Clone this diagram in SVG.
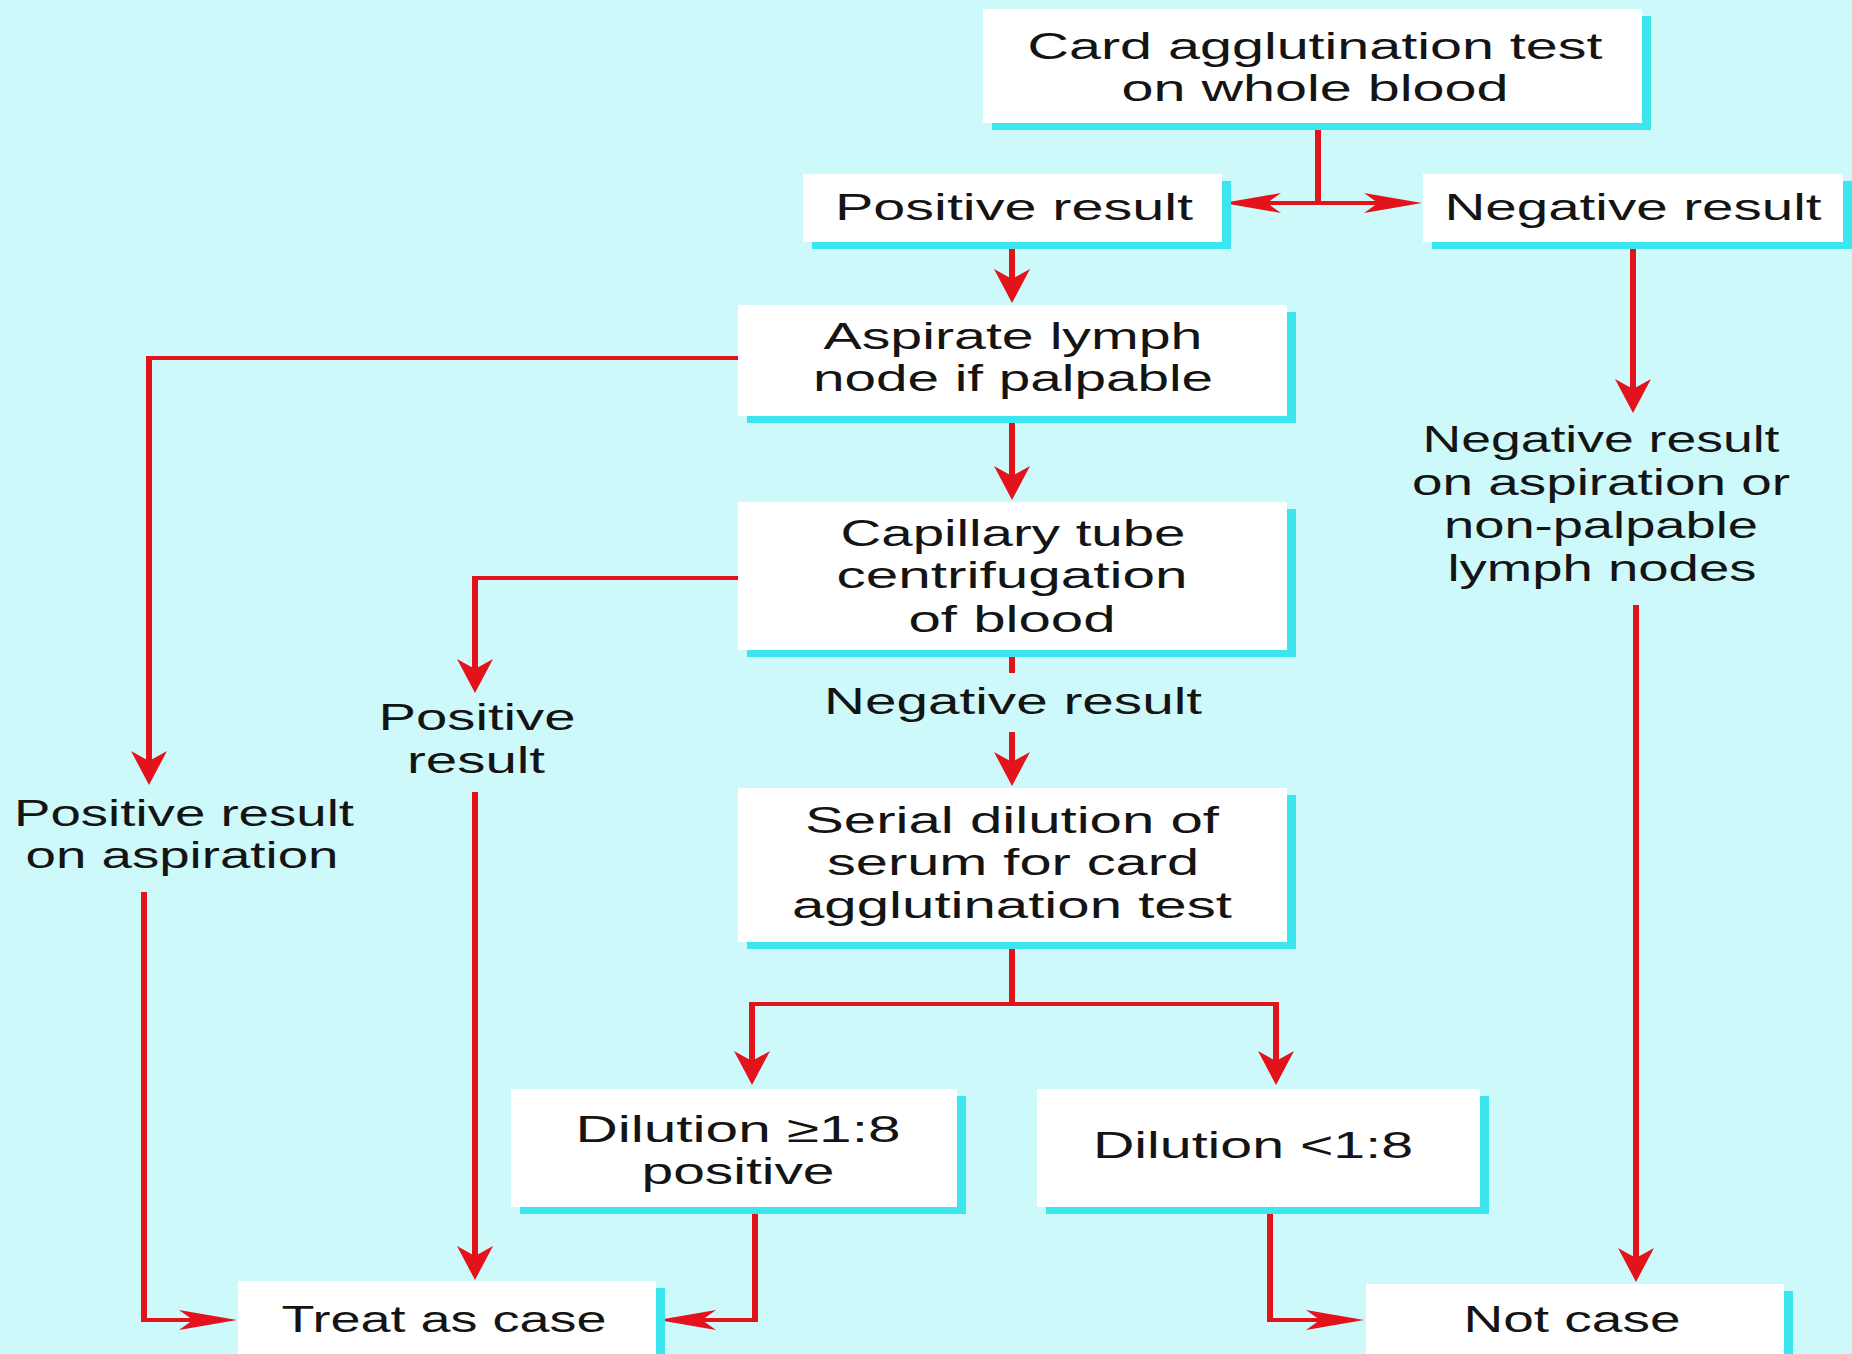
<svg xmlns="http://www.w3.org/2000/svg" width="1852" height="1354" viewBox="0 0 1852 1354">
<defs>
<style>
.bg{fill:#cdf9fa}
.sh{fill:#3ce6ee}
.box{fill:#ffffff}
.t{font-family:"Liberation Sans",Arial,sans-serif;font-size:37px;fill:#141414;text-anchor:middle}
.v{stroke:#e3121b;stroke-width:6;fill:none}
.h{stroke:#e3121b;stroke-width:4;fill:none}
.ah{fill:#e3121b}
</style>
<marker id="av" markerUnits="userSpaceOnUse" markerWidth="34" markerHeight="36" refX="10" refY="18" orient="auto" overflow="visible">
<path class="ah" d="M0,0 L34,18 L0,36 L10,18 Z"/>
</marker>
<marker id="ahh" markerUnits="userSpaceOnUse" markerWidth="58" markerHeight="20" refX="14" refY="10" orient="auto" overflow="visible">
<path class="ah" d="M0,0 L58,10 L0,20 L14,10 Z"/>
</marker>
</defs>
<rect class="bg" x="0" y="0" width="1852" height="1354"/>

<g id="connectors">
<path class="v" d="M1318,123 V203"/>
<path class="h" d="M1320,203 H1267" marker-end="url(#ahh)"/>
<path class="h" d="M1316,203 H1378" marker-end="url(#ahh)"/>
<path class="v" d="M1012,242 V279" marker-end="url(#av)"/>
<path class="v" d="M1012,416 V476" marker-end="url(#av)"/>
<path class="h" d="M738,358 H146"/>
<path class="v" d="M149,356 V761" marker-end="url(#av)"/>
<path class="h" d="M738,578 H472"/>
<path class="v" d="M475,576 V669" marker-end="url(#av)"/>
<path class="v" d="M475,792 V1256" marker-end="url(#av)"/>
<path class="v" d="M144,892 V1322"/>
<path class="h" d="M141,1320 H193" marker-end="url(#ahh)"/>
<path class="v" d="M1012,650 V673"/>
<path class="v" d="M1012,732 V762" marker-end="url(#av)"/>
<path class="v" d="M1012,942 V1004"/>
<path class="h" d="M749,1004 H1279"/>
<path class="v" d="M752,1002 V1061" marker-end="url(#av)"/>
<path class="v" d="M1276,1002 V1061" marker-end="url(#av)"/>
<path class="v" d="M755,1207 V1322"/>
<path class="h" d="M758,1320 H702" marker-end="url(#ahh)"/>
<path class="v" d="M1270,1207 V1322"/>
<path class="h" d="M1267,1320 H1320" marker-end="url(#ahh)"/>
<path class="v" d="M1633,242 V389" marker-end="url(#av)"/>
<path class="v" d="M1636,605 V1258" marker-end="url(#av)"/>
</g>

<g id="node-card">
<rect class="sh" x="992" y="16" width="659" height="114"/>
<rect class="box" x="983" y="9" width="659" height="114"/>
<text class="t" x="1315" y="59" textLength="575" lengthAdjust="spacingAndGlyphs">Card agglutination test</text>
<text class="t" x="1315" y="101" textLength="387" lengthAdjust="spacingAndGlyphs">on whole blood</text>
</g>

<g id="node-positive">
<rect class="sh" x="812" y="181" width="419" height="68"/>
<rect class="box" x="803" y="174" width="419" height="68"/>
<text class="t" x="1014" y="220" textLength="358" lengthAdjust="spacingAndGlyphs">Positive result</text>
</g>

<g id="node-negative">
<rect class="sh" x="1432" y="181" width="420" height="68"/>
<rect class="box" x="1423" y="174" width="420" height="68"/>
<text class="t" x="1633" y="220" textLength="377" lengthAdjust="spacingAndGlyphs">Negative result</text>
</g>

<g id="node-aspirate">
<rect class="sh" x="747" y="312" width="549" height="111"/>
<rect class="box" x="738" y="305" width="549" height="111"/>
<text class="t" x="1013" y="349" textLength="379" lengthAdjust="spacingAndGlyphs">Aspirate lymph</text>
<text class="t" x="1013" y="391" textLength="400" lengthAdjust="spacingAndGlyphs">node if palpable</text>
</g>

<g id="node-capillary">
<rect class="sh" x="747" y="509" width="549" height="148"/>
<rect class="box" x="738" y="502" width="549" height="148"/>
<text class="t" x="1013" y="546" textLength="345" lengthAdjust="spacingAndGlyphs">Capillary tube</text>
<text class="t" x="1012" y="588" textLength="351" lengthAdjust="spacingAndGlyphs">centrifugation</text>
<text class="t" x="1012" y="632" textLength="207" lengthAdjust="spacingAndGlyphs">of blood</text>
</g>

<g id="node-serial">
<rect class="sh" x="747" y="795" width="549" height="154"/>
<rect class="box" x="738" y="788" width="549" height="154"/>
<text class="t" x="1012" y="833" textLength="414" lengthAdjust="spacingAndGlyphs">Serial dilution of</text>
<text class="t" x="1013" y="875" textLength="372" lengthAdjust="spacingAndGlyphs">serum for card</text>
<text class="t" x="1012" y="918" textLength="440" lengthAdjust="spacingAndGlyphs">agglutination test</text>
</g>

<g id="node-dil-pos">
<rect class="sh" x="520" y="1096" width="446" height="118"/>
<rect class="box" x="511" y="1089" width="446" height="118"/>
<text class="t" x="738" y="1142" textLength="325" lengthAdjust="spacingAndGlyphs">Dilution ≥1:8</text>
<text class="t" x="738" y="1184" textLength="193" lengthAdjust="spacingAndGlyphs">positive</text>
</g>

<g id="node-dil-neg">
<rect class="sh" x="1046" y="1096" width="443" height="118"/>
<rect class="box" x="1037" y="1089" width="443" height="118"/>
<text class="t" x="1253" y="1158" textLength="320" lengthAdjust="spacingAndGlyphs">Dilution &lt;1:8</text>
</g>

<g id="node-treat">
<rect class="sh" x="247" y="1288" width="418" height="80"/>
<rect class="box" x="238" y="1281" width="418" height="80"/>
<text class="t" x="444" y="1332" textLength="325" lengthAdjust="spacingAndGlyphs">Treat as case</text>
</g>

<g id="node-notcase">
<rect class="sh" x="1375" y="1291" width="418" height="80"/>
<rect class="box" x="1366" y="1284" width="418" height="80"/>
<text class="t" x="1572" y="1332" textLength="217" lengthAdjust="spacingAndGlyphs">Not case</text>
</g>

<g id="label-pos-aspiration">
<text class="t" x="184" y="826" textLength="340" lengthAdjust="spacingAndGlyphs">Positive result</text>
<text class="t" x="182" y="868" textLength="313" lengthAdjust="spacingAndGlyphs">on aspiration</text>
</g>

<g id="label-pos-result">
<text class="t" x="477" y="730" textLength="197" lengthAdjust="spacingAndGlyphs">Positive</text>
<text class="t" x="476" y="773" textLength="138" lengthAdjust="spacingAndGlyphs">result</text>
</g>

<g id="label-neg-result">
<text class="t" x="1013" y="714" textLength="378" lengthAdjust="spacingAndGlyphs">Negative result</text>
</g>

<g id="label-neg-aspiration">
<text class="t" x="1601" y="452" textLength="357" lengthAdjust="spacingAndGlyphs">Negative result</text>
<text class="t" x="1601" y="495" textLength="378" lengthAdjust="spacingAndGlyphs">on aspiration or</text>
<text class="t" x="1601" y="538" textLength="314" lengthAdjust="spacingAndGlyphs">non-palpable</text>
<text class="t" x="1602" y="581" textLength="309" lengthAdjust="spacingAndGlyphs">lymph nodes</text>
</g>
</svg>
